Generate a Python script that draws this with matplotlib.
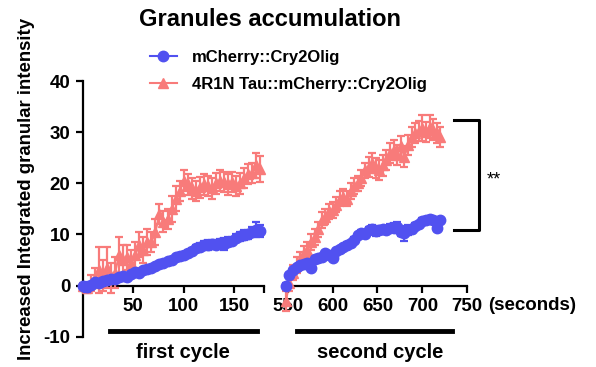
import matplotlib
matplotlib.use("Agg")
import matplotlib.pyplot as plt
from matplotlib.lines import Line2D

plt.rcParams['font.family'] = ['Liberation Sans', 'DejaVu Sans']
plt.rcParams['font.weight'] = 'bold'
plt.rcParams['axes.unicode_minus'] = False

# first cycle (seconds)
t1 = [0, 4, 8, 12, 16, 20, 24, 28, 32, 36, 40, 44, 48, 52, 56, 60, 64, 68, 72, 76,
      80, 84, 88, 92, 96, 100, 104, 108, 112, 116, 120, 124, 128, 132, 136, 140,
      144, 148, 152, 156, 160, 164, 168, 172, 176]
blue1 = [0.0, -0.3, 0.2, 0.6, 0.5, 0.9, 1.0, 1.3, 1.2, 1.6, 1.8, 1.7, 2.2, 2.6, 2.4,
         3.0, 3.3, 3.5, 3.8, 4.2, 4.5, 4.8, 5.0, 5.5, 5.8, 5.9, 6.3, 6.8, 7.3, 7.6,
         7.9, 8.0, 8.2, 8.0, 8.3, 8.1, 8.6, 8.8, 9.3, 9.6, 9.9, 10.0, 10.4, 10.9, 10.6]
blue1_err = [0.3, 1.0, 0.4, 0.5, 0.4, 0.5, 0.4, 0.6, 0.5, 0.5, 0.4, 0.6, 0.5, 0.4, 0.5,
             0.4, 0.5, 0.4, 0.5, 0.4, 0.5, 0.4, 0.5, 0.4, 0.5, 0.4, 0.6, 0.5, 0.6, 0.7,
             0.8, 1.0, 0.8, 0.9, 0.8, 1.2, 0.8, 0.7, 0.8, 0.8, 0.9, 0.8, 1.0, 1.5, 1.2]
red1 = [0.0, -0.5, 0.5, 1.5, 3.0, 2.0, 3.5, 1.5, 2.5, 6.0, 5.0, 5.5, 4.5, 6.0, 8.0,
        7.0, 8.5, 8.5, 10.5, 14.0, 12.5, 13.0, 15.0, 17.0, 18.5, 20.5, 19.8, 19.0,
        18.5, 19.2, 19.8, 19.5, 19.0, 20.0, 20.5, 20.2, 19.8, 20.3, 19.5, 20.0,
        21.0, 21.8, 22.0, 23.5, 22.8]
red1_err = [0.5, 1.0, 1.5, 2.0, 4.5, 3.0, 4.0, 3.0, 3.0, 3.5, 3.0, 2.5, 2.5, 2.5, 2.5,
            2.5, 2.5, 2.0, 2.5, 2.0, 2.0, 2.0, 2.5, 2.5, 2.0, 2.0, 2.0, 2.0, 2.0, 2.0,
            2.0, 2.0, 2.0, 2.0, 2.0, 2.0, 2.0, 2.0, 2.0, 2.0, 2.0, 2.0, 2.0, 2.5, 2.5]

# second cycle (seconds)
t2 = [548, 552, 556, 560, 564, 568, 572, 576, 580, 584, 588, 592, 596, 600, 604,
      608, 612, 616, 620, 624, 628, 632, 636, 640, 644, 648, 652, 656, 660, 664,
      668, 672, 676, 680, 684, 688, 692, 696, 700, 704, 708, 712, 716, 720]
blue2 = [0.0, 2.0, 3.0, 3.6, 4.0, 4.2, 4.4, 3.4, 5.2, 5.4, 5.6, 6.3, 6.0, 5.4, 6.8,
         7.1, 7.5, 8.0, 8.4, 8.9, 9.8, 10.3, 10.0, 10.8, 11.0, 10.6, 10.9, 11.0,
         10.8, 11.2, 11.3, 11.5, 10.5, 10.2, 10.8, 11.0, 11.6, 12.0, 12.7, 12.9,
         13.0, 12.8, 11.2, 12.8]
blue2_err = [0.5, 0.5, 0.4, 0.4, 0.5, 0.4, 0.4, 0.5, 0.4, 0.4, 0.5, 0.4, 0.5, 0.5, 0.4,
             0.5, 0.4, 0.5, 0.4, 0.5, 0.4, 0.5, 0.6, 0.7, 0.8, 1.0, 0.8, 0.7, 0.8, 0.8,
             0.9, 1.0, 0.9, 1.5, 1.0, 0.7, 0.6, 0.5, 0.5, 0.5, 0.5, 0.5, 0.5, 0.5]
red2 = [-3.0, 0.5, 2.5, 4.0, 5.0, 6.3, 7.0, 8.5, 9.5, 11.0, 12.8, 13.5, 14.5, 14.8,
        15.8, 17.0, 17.4, 17.0, 18.5, 19.5, 20.0, 21.0, 22.5, 23.2, 24.0, 23.0, 22.6,
        23.5, 24.5, 25.9, 26.5, 25.5, 27.2, 25.2, 27.5, 29.0, 29.8, 30.2, 30.8, 30.0,
        31.1, 30.5, 29.8, 29.1]
red2_err = [2.0, 1.5, 1.5, 1.5, 1.5, 1.5, 1.5, 1.5, 1.5, 1.5, 1.5, 1.5, 1.5, 1.5, 1.5,
            1.5, 1.5, 1.5, 1.5, 1.5, 1.5, 1.5, 1.5, 2.0, 2.0, 2.0, 2.0, 2.0, 2.0, 2.0,
            2.0, 2.0, 2.0, 2.0, 2.0, 2.0, 2.0, 2.0, 2.5, 2.0, 2.3, 2.0, 2.0, 2.0]

labels = ['mCherry::Cry2Olig', '4R1N Tau::mCherry::Cry2Olig']
BLUE = '#5151f0'
RED = '#f87b7a'

W, H = 596, 367
fig = plt.figure(figsize=(W / 100, H / 100), dpi=100)
ax1 = fig.add_axes([82.8 / W, 30.3 / H, 181.5 / W, 255.7 / H])
ax2 = fig.add_axes([287.7 / W, 30.3 / H, 179.6 / W, 255.7 / H])


def draw(ax, t, b, be, r, re):
    hr = ax.errorbar(t, r, yerr=re, color=RED, marker='^', ms=7, lw=1.5,
                     elinewidth=1.6, capsize=3.2, capthick=1.6, zorder=3)
    hb = ax.errorbar(t, b, yerr=be, color=BLUE, marker='o', ms=7.5, lw=1.5,
                     elinewidth=1.6, capsize=3.2, capthick=1.6, zorder=4)
    for cont in (hr, hb):
        for art in cont.get_children():
            art.set_clip_on(False)
    return hb, hr


hb, hr = draw(ax1, t1, blue1, blue1_err, red1, red1_err)
draw(ax2, t2, blue2, blue2_err, red2, red2_err)

for ax in (ax1, ax2):
    ax.set_ylim(-10, 40)
    ax.spines['top'].set_visible(False)
    ax.spines['right'].set_visible(False)
    ax.spines['bottom'].set_position(('data', 0))
    ax.spines['bottom'].set_linewidth(1.6)
    ax.spines['left'].set_linewidth(1.6)
    ax.tick_params(width=1.6, length=5, labelsize=13.5, pad=4)
    ax.patch.set_visible(False)

ax1.set_xlim(0, 180)
ax1.set_xticks([0, 50, 100, 150, 180])
ax1.set_xticklabels(['', '50', '100', '150', ''])
ax1.set_yticks([-10, 0, 10, 20, 30, 40])
ax1.spines['left'].set_bounds(-10, 40)

ax2.set_xlim(550, 750)
ax2.set_xticks([550, 600, 650, 700, 750])
ax2.spines['left'].set_visible(False)
ax2.tick_params(axis='y', left=False, labelleft=False)
for lab in ax1.get_xticklabels() + ax1.get_yticklabels() + ax2.get_xticklabels():
    lab.set_fontweight('bold')

# significance bracket
ax2.plot([735, 763, 763, 735], [32.4, 32.4, 10.9, 10.9], color='black', lw=2.2,
         clip_on=False)
fig.text(487 / W, 1 - 180 / H, '**', fontsize=13, fontweight='normal',
         ha='left', va='center')

# cycle bars and labels
fig.add_artist(Line2D([110 / W, 257 / W], [1 - 331 / H] * 2, lw=3.5, color='black'))
fig.add_artist(Line2D([297 / W, 452 / W], [1 - 331 / H] * 2, lw=3.5, color='black'))
fig.text(183 / W, 1 - 353 / H, 'first cycle', fontsize=14.5, ha='center', va='center')
fig.text(380 / W, 1 - 353 / H, 'second cycle', fontsize=14.5, ha='center', va='center')
fig.text(488 / W, 1 - 305 / H, '(seconds)', fontsize=13.5, ha='left', va='center')

fig.text(270 / W, 1 - 19 / H, 'Granules accumulation', fontsize=17,
         ha='center', va='center')
fig.text(27 / W, 1 - 189 / H, 'Increased Integrated granular intensity',
         fontsize=13.4, rotation=90, ha='center', va='center')

fig.legend(handles=[hb[0], hr[0]], labels=labels, loc='upper left',
           bbox_to_anchor=(150 / W, 1 - 50 / H), frameon=False, fontsize=12,
           handlelength=1.6, handletextpad=0.9, labelspacing=0.7,
           borderpad=0, borderaxespad=0)

fig.savefig('out.png', dpi=100)
